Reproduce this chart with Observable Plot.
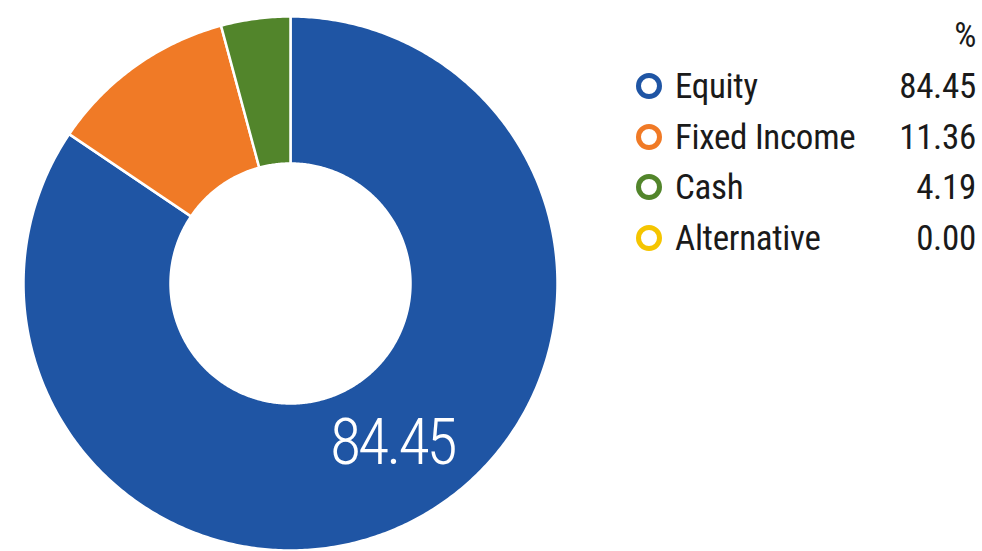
<!DOCTYPE html>
<html>
<head>
<meta charset="utf-8">
<script src="https://cdn.jsdelivr.net/npm/d3@7"></script>
<script src="https://cdn.jsdelivr.net/npm/@observablehq/plot@0.6"></script>
<style>
  html, body { margin: 0; padding: 0; background: #fff; }
  #wrap { position: relative; width: 982px; height: 551px; overflow: hidden; }
  #chart { position: absolute; left: 0; top: 0; }
  #chart text { letter-spacing: -3px; }
  .cf { font-family: "Roboto Condensed", "Liberation Sans Narrow", "DejaVu Sans Condensed", Roboto, sans-serif; font-stretch: condensed; }
  #legend { position: absolute; left: 0; top: 0; width: 982px; height: 551px; pointer-events: none; }
  .row { position: absolute; left: 634px; width: 342px; height: 50px; font-size: 35px; letter-spacing: -0.3px; color: #1a1a1a; }
  .row .dot { position: absolute; left: 2px; top: 50%; width: 16px; height: 16px; margin-top: -6px; border-radius: 50%; border: 5px solid; background: #fff; }
  .row .lab { position: absolute; left: 41px; bottom: 0; line-height: 1; }
  .row .val { position: absolute; right: 0; bottom: 0; line-height: 1; }
</style>
</head>
<body>
<div id="wrap">
  <div id="chart"></div>
  <div id="legend" class="cf"></div>
</div>
<script>
const categories = ["Equity", "Fixed Income", "Cash", "Alternative"];
const values = [84.45, 11.36, 4.19, 0.00];
const colors = ["#1f55a4", "#f07a26", "#52852b", "#f5c500"];
const valueLabels = ["84.45", "11.36", "4.19", "0.00"];
const unitLabel = "%";

const inner = 120 / 267;
const pie = d3.pie().sort(null).value(d => d)(values);

// polygon points for each slice, in unit-radius coordinates
const pts = [];
pie.forEach((p, i) => {
  if (p.endAngle - p.startAngle <= 0) return;
  const n = Math.max(4, Math.ceil((p.endAngle - p.startAngle) / 0.01));
  const ring = [];
  for (let k = 0; k <= n; k++) {
    const a = p.startAngle + (p.endAngle - p.startAngle) * k / n;
    ring.push([Math.sin(a), -Math.cos(a)]);
  }
  for (let k = n; k >= 0; k--) {
    const a = p.startAngle + (p.endAngle - p.startAngle) * k / n;
    ring.push([inner * Math.sin(a), -inner * Math.cos(a)]);
  }
  ring.push(ring[0]);
  ring.forEach(([x, y]) => pts.push({cat: categories[i], x, y}));
});

const eq = pie[0];
const mid = (eq.startAngle + eq.endAngle) / 2;
const rMid = (1 + inner) / 2;
const labelData = [{x: rMid * Math.sin(mid), y: -rMid * Math.cos(mid), t: valueLabels[0]}];

const R = 267;
const plot = Plot.plot({
  width: 982, height: 551,
  margin: 0,
  x: {domain: [-290 / R, (982 - 290) / R], range: [0, 982], axis: null},
  y: {domain: [-283 / R, (551 - 283) / R], range: [0, 551], axis: null},
  color: {domain: categories, range: colors},
  style: {background: "transparent"},
  marks: [
    Plot.line(pts, {x: "x", y: "y", z: "cat", fill: "cat", stroke: "white", strokeWidth: 2.5, strokeLinejoin: "round"}),
    Plot.text(labelData, {x: "x", y: "y", text: "t", fill: "white", fontSize: 64, fontWeight: 300, dx: 11, dy: -11,
      fontFamily: "'Roboto Condensed', 'Liberation Sans Narrow', 'DejaVu Sans Condensed', Roboto, sans-serif"})
  ]
});
document.getElementById("chart").appendChild(plot);

const legend = document.getElementById("legend");
const hdr = document.createElement("div");
hdr.className = "row";
hdr.style.top = "3px";
hdr.innerHTML = `<span class="val">${unitLabel}</span>`;
legend.appendChild(hdr);
categories.forEach((c, i) => {
  const row = document.createElement("div");
  row.className = "row";
  row.style.top = (54 + i * 50.5) + "px";
  row.innerHTML = `<span class="dot" style="border-color:${colors[i]}"></span><span class="lab">${c}</span><span class="val">${valueLabels[i]}</span>`;
  legend.appendChild(row);
});
</script>
</body>
</html>
